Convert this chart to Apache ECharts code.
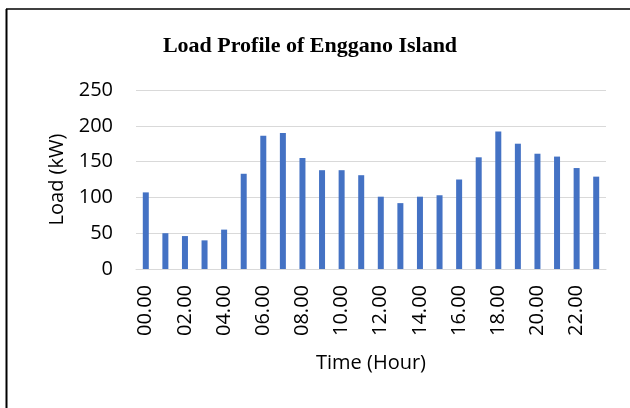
<!DOCTYPE html>
<html><head><meta charset="utf-8">
<script src="https://cdn.jsdelivr.net/npm/echarts@6/dist/echarts.min.js"></script>
<style>html,body{margin:0;padding:0;background:#fff}#c{width:630px;height:408px}</style>
</head><body><div id="c"></div>
<script>
const categories = ['00.00','01.00','02.00','03.00','04.00','05.00','06.00','07.00','08.00','09.00','10.00','11.00','12.00','13.00','14.00','15.00','16.00','17.00','18.00','19.00','20.00','21.00','22.00','23.00'];
const loadValues = [107,50,46,40,55,133,186,190,155,138,138,131,101,92,101,103,125,156,192,175,161,157,141,129];
const yTicks = {min:0, max:250, interval:50};

const chart = echarts.init(document.getElementById('c'));
chart.setOption({
  animation:false,
  title:{text:'Load Profile of Enggano Island', left:305, top:30, textAlign:'center',
    textStyle:{fontFamily:'Liberation Serif', fontWeight:'bold', fontSize:22, color:'#000'}},
  grid:{left:136, right:24, top:90, bottom:139, containLabel:false},
  xAxis:{type:'category', data:categories, name:'Time (Hour)', nameLocation:'middle', nameGap:84,
    nameTextStyle:{fontFamily:'Open Sans', fontSize:20, color:'#000'},
    axisLine:{lineStyle:{color:'#d9d9d9', width:1}}, axisTick:{show:false},
    axisLabel:{interval:1, rotate:90, fontFamily:'Open Sans', fontSize:20, color:'#000', margin:16}},
  yAxis:{type:'value', min:yTicks.min, max:yTicks.max, interval:yTicks.interval, name:'Load (kW)', nameLocation:'middle', nameGap:69,
    nameTextStyle:{fontFamily:'Open Sans', fontSize:20, color:'#000'},
    axisLine:{show:false}, axisTick:{show:false},
    axisLabel:{fontFamily:'Open Sans', fontSize:20, color:'#000', margin:23},
    splitLine:{lineStyle:{color:'#d9d9d9', width:1}}},
  series:[{type:'bar', data:loadValues, barWidth:6, itemStyle:{color:'#4472c4'}}],
  graphic:[
    {type:'line', shape:{x1:6.5, y1:9, x2:6.5, y2:408}, style:{stroke:'#000', lineWidth:2}},
    {type:'line', shape:{x1:6, y1:9, x2:630, y2:9}, style:{stroke:'#000', lineWidth:1.3}}
  ]
});
</script></body></html>
